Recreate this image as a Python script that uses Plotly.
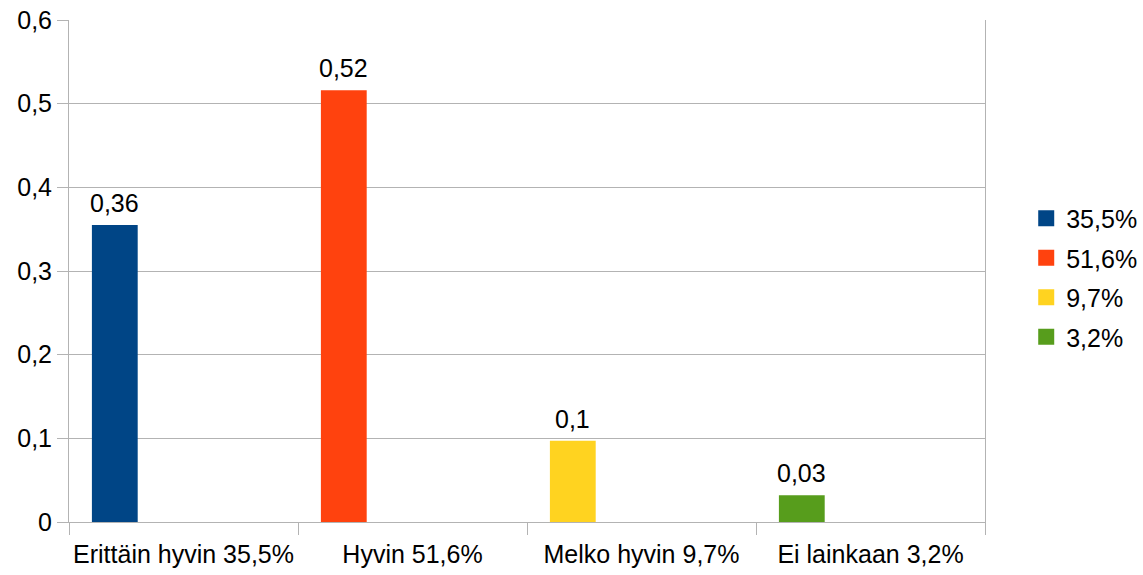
import plotly.graph_objects as go
from decimal import Decimal, ROUND_HALF_UP

categories = ["Erittäin hyvin 35,5%", "Hyvin 51,6%", "Melko hyvin 9,7%", "Ei lainkaan 3,2%"]
series_names = ["35,5%", "51,6%", "9,7%", "3,2%"]
values = [0.355, 0.516, 0.097, 0.032]
colors = ["#004586", "#ff420e", "#ffd320", "#579d1c"]

FONT = "Liberation Sans, Arial, sans-serif"
FS = 25
BAR_OFFSET = -0.4
BAR_WIDTH = 0.2


def fmt(v):
    d = Decimal(str(v)).quantize(Decimal("0.01"), rounding=ROUND_HALF_UP).normalize()
    return format(d, "f").replace(".", ",")


fig = go.Figure()
for cat, name, v, c in zip(categories, series_names, values, colors):
    fig.add_trace(go.Bar(
        x=[cat], y=[v], name=name, legendgroup=name, showlegend=False,
        marker=dict(color=c, line=dict(width=0)),
        width=BAR_WIDTH, offset=BAR_OFFSET,
        hoverinfo="skip",
    ))
# legend entries with larger square keys
for cat, name, c in zip(categories, series_names, colors):
    fig.add_trace(go.Scatter(
        x=[cat], y=[None], name=name, legendgroup=name, mode="markers",
        marker=dict(symbol="square", size=16, color=c),
        hoverinfo="skip", showlegend=True,
    ))

# value labels above bars
for i, v in enumerate(values):
    fig.add_annotation(
        x=i + BAR_OFFSET + BAR_WIDTH / 2, y=v, xref="x", yref="y",
        text=fmt(v), showarrow=False, yanchor="bottom", yshift=6,
        font=dict(size=FS, family=FONT, color="black"),
    )

fig.update_layout(
    width=1143, height=575,
    margin=dict(l=69, r=158, t=20, b=53, autoexpand=False),
    paper_bgcolor="white", plot_bgcolor="white",
    barmode="overlay",
    separators=", ",
    font=dict(family=FONT, size=FS, color="black"),
    showlegend=True,
    legend=dict(x=1.045, y=0.487, xanchor="left", yanchor="middle",
                font=dict(size=FS, family=FONT), tracegroupgap=4,
                itemwidth=30, bgcolor="rgba(0,0,0,0)"),
)
fig.update_xaxes(
    type="category", categoryorder="array", categoryarray=categories,
    tickson="boundaries", ticks="outside", ticklen=12, tickcolor="#b3b3b3",
    tickangle=0, ticklabelstandoff=10,
    showgrid=False, automargin=False,
    showline=True, linecolor="#b3b3b3", mirror=False,
    tickfont=dict(size=FS, family=FONT, color="black"),
    range=[-0.5, 3.5],
)
fig.update_yaxes(
    range=[0, 0.6], dtick=0.1, tick0=0, automargin=False,
    ticks="outside", ticklen=11, tickcolor="#b3b3b3",
    showgrid=True, gridcolor="#b3b3b3", gridwidth=1,
    showline=True, linecolor="#b3b3b3", mirror=True,
    zeroline=False,
    tickfont=dict(size=FS, family=FONT, color="black"),
)

fig.write_html("out.html")
